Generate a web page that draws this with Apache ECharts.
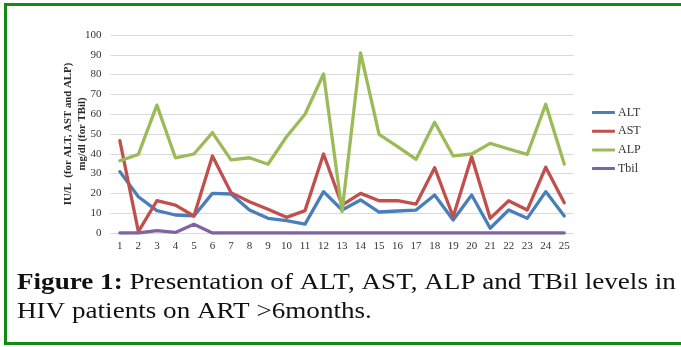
<!DOCTYPE html>
<html>
<head>
<meta charset="utf-8">
<script src="https://cdn.jsdelivr.net/npm/echarts@6/dist/echarts.min.js"></script>
<style>
  html, body { margin: 0; padding: 0; background: #fff; overflow: hidden; }
  #chart { width: 681px; height: 347px; }
</style>
</head>
<body>
<div id="chart"></div>
<script>
// data
const categories = ['1', '2', '3', '4', '5', '6', '7', '8', '9', '10', '11', '12', '13',
  '14', '15', '16', '17', '18', '19', '20', '21', '22', '23', '24', '25'];
const altValues = [31, 18.3, 11.3, 9.1, 8.6, 20, 19.7, 11.6, 7.4, 6.2, 4.5, 20.9, 11.6,
  16.7, 10.6, 11.1, 11.6, 19.2, 6.6, 19.2, 2.4, 11.6, 7.4, 20.9, 8.6];
const astValues = [46.6, 0.7, 16.3, 14.1, 8.6, 38.9, 20.4, 15.8, 12, 7.9, 11.3, 39.9, 14.1,
  20, 16.3, 16.3, 14.6, 33, 8.2, 38.5, 7.4, 16.3, 11.6, 33.2, 15.3];
const alpValues = [36.5, 39.7, 64.6, 38, 39.9, 50.7, 36.9, 38, 34.7, 48.6, 60, 80.3, 10.8,
  91, 49.8, 43.6, 37.2, 55.9, 38.9, 39.9, 45.3, 42.4, 39.7, 65, 34.8];
const tbilValues = [0, 0, 1.2, 0.3, 4.4, 0, 0, 0, 0, 0, 0, 0, 0,
  0, 0, 0, 0, 0, 0, 0, 0, 0, 0, 0, 0];
const seriesNames = ['ALT', 'AST', 'ALP', 'Tbil'];
const colors = ['#4a7ebb', '#c0504d', '#9bbb59', '#8064a2'];

const serif = '"Liberation Serif", "Times New Roman", serif';
const frameColor = '#138a13';

const chart = echarts.init(document.getElementById('chart'), null, { renderer: 'canvas' });

const makeLine = (name, data) => ({
  name,
  type: 'line',
  data,
  symbol: 'none',
  lineStyle: { width: 3.3, join: 'round', cap: 'round' },
  emphasis: { disabled: true },
});

chart.setOption({
  animation: false,
  color: colors,
  graphic: [
    // green frame: left, top and bottom sides only
    {
      type: 'polyline',
      silent: true,
      shape: { points: [[700, 4.5], [5.5, 4.5], [5.5, 343.5], [700, 343.5]] },
      style: { stroke: frameColor, lineWidth: 3, fill: null },
    },
    // caption, widened a bit to match the original face
    {
      type: 'text',
      silent: true,
      x: 17,
      y: 268.5,
      scaleX: 1.13,
      style: {
        text: '{b|Figure 1:} Presentation of ALT, AST, ALP and TBil levels in\nHIV patients on ART >6months.',
        font: '24px ' + serif,
        fill: '#111',
        lineHeight: 29,
        rich: {
          b: { fontFamily: serif, fontSize: 24, fontWeight: 'bold', fill: '#111', lineHeight: 29 },
        },
      },
    },
  ],
  grid: {
    left: 110.6,
    right: 107.5,
    top: 35,
    bottom: 114,
    containLabel: false,
  },
  legend: {
    orient: 'vertical',
    left: 592,
    top: 106.5,
    padding: 0,
    icon: 'roundRect',
    itemWidth: 23,
    itemHeight: 3,
    itemGap: 6.7,
    data: seriesNames,
    textStyle: { fontFamily: serif, fontSize: 12, color: '#333', padding: [0, 0, 0, -2] },
  },
  xAxis: {
    type: 'category',
    data: categories,
    boundaryGap: true,
    axisLine: { show: false },
    axisTick: { show: false },
    axisLabel: { fontFamily: serif, fontSize: 11, color: '#333', margin: 8, interval: 0 },
  },
  yAxis: {
    type: 'value',
    min: 0,
    max: 100,
    interval: 10,
    name: 'IU/L  (for ALT, AST and ALP)\nmg/dl (for TBil)',
    nameLocation: 'middle',
    nameGap: 21,
    nameMoveOverlap: false,
    nameTextStyle: {
      fontFamily: serif,
      fontSize: 10.8,
      fontWeight: 'bold',
      color: '#2a2a2a',
      lineHeight: 14,
    },
    axisLine: { show: false },
    axisTick: { show: false },
    axisLabel: { fontFamily: serif, fontSize: 11, color: '#333', margin: 9 },
    splitLine: { lineStyle: { color: '#d9d9d9', width: 1 } },
  },
  series: [
    makeLine('ALT', altValues),
    makeLine('AST', astValues),
    makeLine('ALP', alpValues),
    makeLine('Tbil', tbilValues),
  ],
});
</script>
</body>
</html>
